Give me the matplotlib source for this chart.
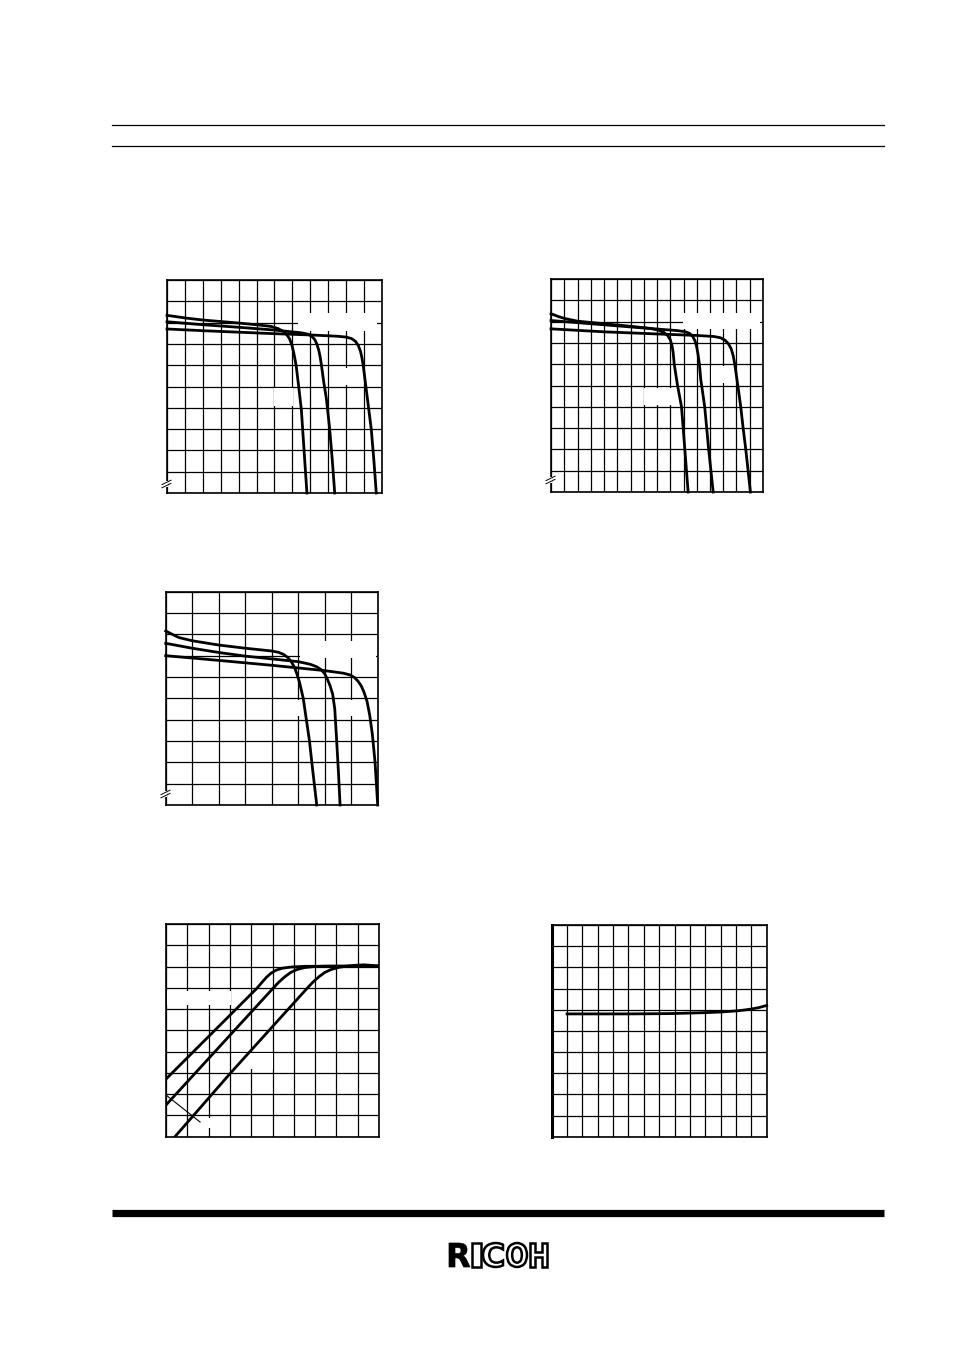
import matplotlib
matplotlib.use("Agg")
import matplotlib.pyplot as plt
from matplotlib.patches import Rectangle, PathPatch
from matplotlib.textpath import TextPath
from matplotlib.font_manager import FontProperties
from matplotlib.transforms import Affine2D

W, H = 954, 1351

# ---- chart 1 : three current-limit curves (12 x 10 grid)
c1_a_x = [0, 1, 2, 4, 5.2, 5.8, 6.2, 6.5, 6.7, 6.85, 6.97, 7.07, 7.15, 7.22, 7.35, 7.5, 7.65, 7.81]
c1_a_y = [8.34, 8.22, 8.12, 7.98, 7.88, 7.82, 7.72, 7.58, 7.42, 7.22, 6.95, 6.6, 6.25, 5.9, 5.0, 3.9, 2.0, 0]
c1_b_x = [0, 2, 4, 6, 7.5, 7.85, 8.08, 8.25, 8.37, 8.47, 8.55, 8.62, 8.75, 8.9, 9.08, 9.22, 9.36]
c1_b_y = [8.04, 7.9, 7.78, 7.65, 7.52, 7.46, 7.36, 7.2, 6.98, 6.7, 6.38, 6.0, 5.2, 4.4, 3.0, 1.6, 0]
c1_c_x = [0, 2, 4, 6, 8, 9.5, 10.0, 10.3, 10.52, 10.68, 10.8, 10.88, 10.95, 11.1, 11.25, 11.4, 11.55, 11.68]
c1_c_y = [7.7, 7.62, 7.55, 7.48, 7.42, 7.36, 7.32, 7.25, 7.12, 6.92, 6.65, 6.35, 6.0, 5.0, 4.0, 3.0, 1.5, 0]

# ---- chart 2 : three current-limit curves (16 x 10 grid)
c2_a_x = [0, 0.5, 1, 2, 4, 6, 7.5, 8.1, 8.5, 8.8, 9.0, 9.13, 9.22, 9.3, 9.55, 9.85, 10.1, 10.35]
c2_a_y = [8.37, 8.25, 8.15, 8.02, 7.9, 7.78, 7.68, 7.6, 7.5, 7.35, 7.15, 6.88, 6.55, 6.0, 5.0, 4.0, 2.0, 0]
c2_b_x = [0, 2, 4, 6, 8, 9.5, 10.1, 10.45, 10.7, 10.88, 11.0, 11.1, 11.2, 11.3, 11.6, 11.9, 12.24]
c2_b_y = [8.05, 7.95, 7.85, 7.75, 7.65, 7.58, 7.53, 7.45, 7.3, 7.08, 6.8, 6.45, 6.0, 5.3, 4.0, 2.0, 0]
c2_c_x = [0, 4, 8, 11, 12.3, 12.8, 13.15, 13.4, 13.6, 13.75, 13.87, 14.1, 14.32, 14.5, 14.7, 15.05]
c2_c_y = [7.66, 7.52, 7.42, 7.35, 7.3, 7.24, 7.12, 6.95, 6.72, 6.4, 6.0, 5.0, 4.0, 3.0, 2.0, 0]

# ---- chart 3 : three current-limit curves (8 x 10 grid)
c3_a_x = [0, 0.25, 0.5, 1, 2, 3, 4, 4.25, 4.45, 4.62, 4.75, 4.86, 4.95, 5.05, 5.19, 5.42, 5.55, 5.7]
c3_a_y = [8.16, 8.0, 7.85, 7.7, 7.5, 7.35, 7.22, 7.16, 7.06, 6.9, 6.7, 6.45, 6.15, 5.75, 5.0, 3.05, 1.6, 0]
c3_b_x = [0, 1, 2, 3, 4, 5, 5.45, 5.7, 5.88, 6.0, 6.1, 6.2, 6.3, 6.38, 6.45, 6.52, 6.58]
c3_b_y = [7.58, 7.35, 7.15, 6.98, 6.85, 6.72, 6.6, 6.48, 6.33, 6.15, 5.9, 5.6, 5.2, 4.5, 3.05, 1.5, 0]
c3_c_x = [0, 2, 4, 6, 6.7, 6.95, 7.12, 7.26, 7.38, 7.48, 7.6, 7.7, 7.8, 7.9, 8.0]
c3_c_y = [7.0, 6.78, 6.55, 6.3, 6.18, 6.1, 5.98, 5.8, 5.58, 5.3, 4.85, 4.2, 3.3, 2.0, 0]

# ---- chart 4 : three rising curves with saturation (10 x 10 grid)
c4_a_x = [0, 4.26, 4.5, 4.72, 4.92, 5.15, 5.45, 5.9, 6.5, 10]
c4_a_y = [2.71, 6.97, 7.25, 7.5, 7.68, 7.82, 7.92, 7.98, 8.01, 8.02]
c4_b_x = [0, 5.0, 5.3, 5.58, 5.85, 6.15, 6.5, 6.95, 7.5, 10]
c4_b_y = [1.49, 6.95, 7.27, 7.52, 7.72, 7.86, 7.95, 8.0, 8.02, 8.02]
c4_c_x = [0.42, 3.0, 6.6, 6.9, 7.18, 7.45, 7.75, 8.1, 8.5, 8.9, 9.3, 9.7, 10]
c4_c_y = [0, 2.96, 6.95, 7.27, 7.52, 7.72, 7.86, 7.96, 8.02, 8.06, 8.08, 8.05, 8.02]
c4_mark_x = [0, 1.6]
c4_mark_y = [1.96, 0.69]

# ---- chart 5 : one nearly flat curve (14 x 10 grid)
c5_x = [1, 3, 5, 7, 8, 9, 10, 11, 12, 12.5, 13, 13.5, 14]
c5_y = [5.8, 5.8, 5.8, 5.81, 5.82, 5.84, 5.86, 5.89, 5.94, 5.98, 6.03, 6.1, 6.2]

fig = plt.figure(figsize=(W / 100, H / 100), dpi=100)
fig.patch.set_facecolor("white")


def make_ax(left, right, top, bottom, ncols, left_lw=1.2):
    ax = fig.add_axes([left / W, 1 - bottom / H, (right - left) / W, (bottom - top) / H])
    ax.set_xlim(0, ncols)
    ax.set_ylim(0, 10)
    ax.set_xticks(range(ncols + 1))
    ax.set_yticks(range(11))
    ax.tick_params(length=0, labelbottom=False, labelleft=False)
    ax.set_axisbelow(True)
    ax.grid(True, color="black", lw=0.9)
    for s in ax.spines.values():
        s.set_linewidth(1.2)
    ax.spines["left"].set_linewidth(left_lw)
    return ax


def mask(ax, x0, x1, y0, y1):
    # blank areas where the labels of the original sheet were
    ax.add_patch(Rectangle((x0, y0), x1 - x0, y1 - y0, facecolor="white",
                           edgecolor="none", zorder=1))


LW = 2.0

ax1 = make_ax(167, 382, 280, 493, 12)
mask(ax1, 7.3, 11.7, 7.6, 8.45)
mask(ax1, 9.1, 10.2, 5.05, 5.85)
mask(ax1, 5.95, 7.03, 4.08, 4.95)
for x, y in [(c1_a_x, c1_a_y), (c1_b_x, c1_b_y), (c1_c_x, c1_c_y)]:
    ax1.plot(x, y, color="black", lw=LW, zorder=3, clip_on=False, solid_joinstyle="round")

ax2 = make_ax(551, 763, 279, 492, 16)
mask(ax2, 9.97, 15.75, 7.66, 8.4)
mask(ax2, 12.1, 13.1, 5.1, 5.9)
mask(ax2, 7.0, 9.1, 4.08, 4.9)
for x, y in [(c2_a_x, c2_a_y), (c2_b_x, c2_b_y), (c2_c_x, c2_c_y)]:
    ax2.plot(x, y, color="black", lw=LW, zorder=3, clip_on=False, solid_joinstyle="round")

ax3 = make_ax(165.7, 377.7, 591.7, 805, 8)
mask(ax3, 5.05, 7.92, 6.9, 7.7)
mask(ax3, 4.95, 5.6, 4.15, 4.9)
mask(ax3, 6.9, 7.1, 4.15, 4.9)
for x, y in [(c3_a_x, c3_a_y), (c3_b_x, c3_b_y), (c3_c_x, c3_c_y)]:
    ax3.plot(x, y, color="black", lw=LW, zorder=3, clip_on=False, solid_joinstyle="round")

ax4 = make_ax(166, 379, 924, 1136.7, 10)
mask(ax4, 0.05, 3.05, 6.2, 6.85)
mask(ax4, 3.08, 5.04, 3.2, 3.92)
mask(ax4, 1.85, 2.3, 0.4, 0.9)
for x, y in [(c4_a_x, c4_a_y), (c4_b_x, c4_b_y), (c4_c_x, c4_c_y)]:
    ax4.plot(x, y, color="black", lw=LW, zorder=3, solid_joinstyle="round")
ax4.plot(c4_mark_x, c4_mark_y, color="black", lw=0.8, zorder=3)

ax5 = make_ax(551.7, 766.7, 925, 1136.7, 14, left_lw=2.2)
ax5.plot(c5_x, c5_y, color="black", lw=LW, zorder=3, clip_on=False, solid_joinstyle="round")

# overlay in page pixels for rules, break marks and logo
pg = fig.add_axes([0, 0, 1, 1], zorder=10)
pg.set_xlim(0, W)
pg.set_ylim(H, 0)
pg.axis("off")
pg.patch.set_alpha(0)

pg.plot([112, 884], [124.5, 124.5], color="black", lw=0.9)
pg.plot([112, 884], [146, 146], color="black", lw=0.9)
pg.plot([112, 884], [1212.5, 1212.5], color="black", lw=5.2, solid_capstyle="butt")


def brk(cx, cy):
    pg.add_patch(Rectangle((cx - 2, cy - 3), 4, 6, facecolor="white", edgecolor="none"))
    for off in (-1.6, 1.6):
        pg.plot([cx - 4.5, cx + 4.5], [cy + 2.2 + off, cy - 2.2 + off], color="black", lw=0.7)


brk(166.5, 484)
brk(550.5, 480)
brk(165.5, 794)

# RICOH logo
fp = FontProperties(family="DejaVu Sans", weight="bold")
letters = ["R", "I", "C", "O", "H"]
boxes = [(449, 470), (472, 481), (483, 503), (507, 527), (530, 547)]
top, bot = 1243, 1267
for ch, (x0, x1) in zip(letters, boxes):
    tp = TextPath((0, 0), ch, size=1, prop=fp)
    ext = tp.get_extents()
    sx = (x1 - x0) / ext.width
    sy = (bot - top) / ext.height
    tr = Affine2D().translate(-ext.x0, -ext.y0).scale(sx, -sy).translate(x0, bot)
    path = tr.transform_path(tp)
    if ch == "R":
        pg.add_patch(PathPatch(path, facecolor="black", edgecolor="black", lw=0.5))
    else:
        pg.add_patch(PathPatch(path, facecolor="white", edgecolor="black", lw=1.8))

fig.savefig("out.png", dpi=100, facecolor="white")
